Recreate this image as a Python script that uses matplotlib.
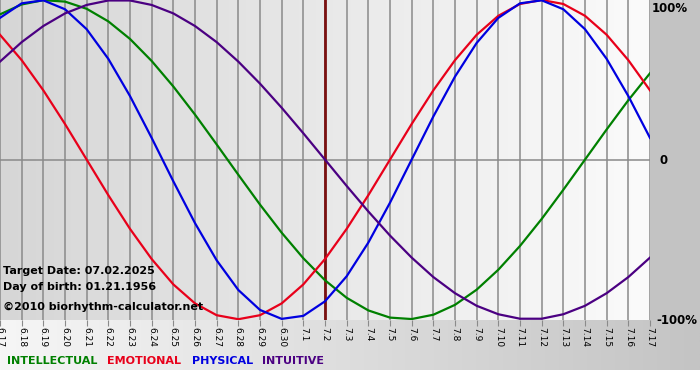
import numpy as np
import matplotlib
matplotlib.use('Agg')
from matplotlib import pyplot as plt

# day labels (6.17 .. 7.17), target day 7.2
days = ['6.17', '6.18', '6.19', '6.20', '6.21', '6.22', '6.23', '6.24', '6.25', '6.26',
        '6.27', '6.28', '6.29', '6.30', '7.1', '7.2', '7.3', '7.4', '7.5', '7.6',
        '7.7', '7.8', '7.9', '7.10', '7.11', '7.12', '7.13', '7.14', '7.15', '7.16', '7.17']
target_day = '7.2'

# values read per day, -1 .. 1
physical = [0.888, 0.979, 0.998, 0.942, 0.817, 0.631, 0.398, 0.136, -0.136, -0.398,
            -0.631, -0.817, -0.942, -0.998, -0.979, -0.888, -0.731, -0.520, -0.270, 0.0,
            0.270, 0.520, 0.731, 0.888, 0.979, 0.998, 0.942, 0.817, 0.631, 0.398, 0.136]
emotional = [0.782, 0.623, 0.434, 0.223, 0.0, -0.223, -0.434, -0.623, -0.782, -0.901,
             -0.975, -1.0, -0.975, -0.901, -0.782, -0.623, -0.434, -0.223, 0.0, 0.223,
             0.434, 0.623, 0.782, 0.901, 0.975, 1.0, 0.975, 0.901, 0.782, 0.623, 0.434]
intellectual = [0.910, 0.972, 0.999, 0.990, 0.945, 0.866, 0.756, 0.618, 0.458, 0.282,
                0.095, -0.095, -0.282, -0.458, -0.618, -0.756, -0.866, -0.945, -0.990, -0.999,
                -0.972, -0.910, -0.815, -0.690, -0.541, -0.372, -0.189, 0.0, 0.189, 0.372, 0.541]
intuitive = [0.614, 0.736, 0.837, 0.916, 0.969, 0.997, 0.997, 0.969, 0.916, 0.837,
             0.736, 0.614, 0.476, 0.325, 0.165, 0.0, -0.165, -0.325, -0.476, -0.614,
             -0.736, -0.837, -0.916, -0.969, -0.997, -0.997, -0.969, -0.916, -0.837, -0.736, -0.614]

info = ['Target Date: 07.02.2025', 'Day of birth: 01.21.1956', '\u00a92010 biorhythm-calculator.net']

series = [('INTELLECTUAL', intellectual, '#008000'),
          ('EMOTIONAL', emotional, '#e8001a'),
          ('PHYSICAL', physical, '#0000e0'),
          ('INTUITIVE', intuitive, '#4b0082')]

W, H = 700, 380
fig = plt.figure(figsize=(W / 100, H / 100), dpi=100)
fig.patch.set_facecolor('white')

# background: gray strip on the right, gradient band under the plot
bg = fig.add_axes([0, 0, 1, 1], zorder=0)
bg.set_xlim(0, W)
bg.set_ylim(H, 0)
bg.axis('off')
bg.axhspan(0, 320, xmin=650 / W, xmax=1, color='#c3c3c3', lw=0)
grad = np.linspace(0, 1, 256)[None, :]
bg.imshow(grad, cmap=matplotlib.colors.LinearSegmentedColormap.from_list('b', ['#f6f6f6', '#c4c4c4']),
          extent=[0, W, 370, 320], aspect='auto', zorder=0)

ax = fig.add_axes([0, 60 / H, 650 / W, 320 / H], zorder=1)
ax.patch.set_alpha(0)
x = np.arange(len(days))
ax.set_xlim(0, len(days) - 1)
ax.set_ylim(-1.005, 1.0)
ax.imshow(grad, cmap=matplotlib.colors.LinearSegmentedColormap.from_list('p', ['#d6d6d6', '#fbfbfb']),
          extent=[0, 1, 0, 1], transform=ax.transAxes, aspect='auto', zorder=0)

for xi in x:
    ax.axvline(xi, color='#8a8a8a', lw=1.1, zorder=1)
ax.axhline(0, color='#8a8a8a', lw=1.1, zorder=1)
ax.axvline(days.index(target_day), color='#7a1010', lw=2, zorder=1)

for name, vals, col in series:
    ax.plot(x, vals, color=col, lw=1.6, zorder=3, solid_joinstyle='round')

for s in ax.spines.values():
    s.set_visible(False)
ax.set_yticks([])
ax.set_xticks(x)
ax.set_xticklabels(days, rotation=-90, fontsize=6.5)
ax.tick_params(axis='x', length=4, color='#8a8a8a', pad=1)

ax.text(652 / 650, 1.0 - 2 / 320, '100%', transform=ax.transAxes, ha='left', va='top',
        fontsize=8.5, fontweight='bold', clip_on=False)
ax.text(660 / 650, 0.5, '0', transform=ax.transAxes, ha='left', va='center',
        fontsize=8.5, fontweight='bold', clip_on=False)
ax.text(656 / 650, 0.0, '-100%', transform=ax.transAxes, ha='left', va='center',
        fontsize=8.5, fontweight='bold', clip_on=False)

for i, t in enumerate(info):
    yy = [271, 287, 307][i]
    fig.text(3 / W, 1 - yy / H, t, ha='left', va='center', fontsize=8, fontweight='bold', zorder=5)

lx = [7, 107, 192, 262]
for (name, vals, col), px in zip(series, lx):
    fig.text(px / W, 1 - 361 / H, name, color=col, ha='left', va='center',
             fontsize=8, fontweight='bold')

fig.savefig('out.png', dpi=100)
